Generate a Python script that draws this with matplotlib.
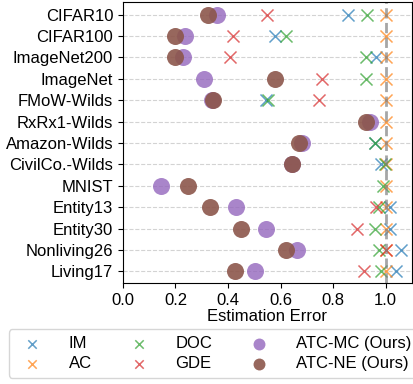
import numpy as np
import matplotlib.pyplot as plt

plt.rcParams['font.family'] = ['Liberation Sans', 'DejaVu Sans']

nan = np.nan
datasets = ['CIFAR10', 'CIFAR100', 'ImageNet200', 'ImageNet', 'FMoW-Wilds',
            'RxRx1-Wilds', 'Amazon-Wilds', 'CivilCo.-Wilds', 'MNIST',
            'Entity13', 'Entity30', 'Nonliving26', 'Living17']

im = [0.856, 0.578, 0.964, nan, 0.544, nan, 0.958, 0.981, nan, 1.018, 1.018, 1.06, 1.038]
ac = [1.0] * 13
doc = [0.928, 0.619, 0.924, 0.924, 0.553, nan, 0.958, 0.996, 0.99, 0.975, 0.958, 0.975, 0.981]
gde = [0.55, 0.417, 0.407, 0.757, 0.745, nan, nan, nan, nan, 0.962, 0.891, 1.003, 0.918]
atc_mc = [0.357, 0.236, 0.229, 0.308, 0.34, 0.942, 0.683, 0.645, 0.144, 0.432, 0.544, 0.663, 0.502]
atc_ne = [0.323, 0.198, 0.198, 0.578, 0.344, 0.924, 0.669, 0.645, 0.248, 0.333, 0.451, 0.62, 0.428]

y = np.arange(len(datasets))

fig = plt.figure(figsize=(4.14, 3.84), dpi=100)
ax = fig.add_axes([0.297, 0.263, 0.698, 0.732])

ax.grid(axis='y', linestyle='--', color='lightgray', linewidth=0.8)
ax.set_axisbelow(True)

ax.scatter(im, y, marker='x', s=75, color='tab:blue', alpha=0.7, linewidths=1.1, label='IM')
ax.scatter(ac, y, marker='x', s=75, color='tab:orange', alpha=0.7, linewidths=1.1, label='AC')
ax.scatter(doc, y, marker='x', s=75, color='tab:green', alpha=0.7, linewidths=1.1, label='DOC')
ax.scatter(gde, y, marker='x', s=75, color='tab:red', alpha=0.7, linewidths=1.1, label='GDE')
ax.scatter(atc_mc, y, marker='o', s=150, color='tab:purple', alpha=0.8, linewidths=0, label='ATC-MC (Ours)')
ax.scatter(atc_ne, y, marker='o', s=150, color='tab:brown', alpha=0.9, linewidths=0, label='ATC-NE (Ours)')

ax.axvline(1.0, color='gray', linestyle='--', linewidth=2, alpha=0.7)

ax.set_yticks(y)
ax.set_yticklabels(datasets, fontsize=12)
ax.set_ylim(len(datasets) - 0.45, -0.6)
ax.set_xlim(0, 1.1)
ax.set_xticks([0.0, 0.2, 0.4, 0.6, 0.8, 1.0])
ax.tick_params(axis='x', labelsize=12)
ax.set_xlabel('Estimation Error', fontsize=12, labelpad=1)

fig.legend(loc='lower center', bbox_to_anchor=(0.515, -0.005), ncol=3, fontsize=12,
           handletextpad=1.2, columnspacing=1.8, borderpad=0.4, labelspacing=0.3,
           markerscale=0.7, fancybox=True)

fig.savefig('out.png', dpi=100)
